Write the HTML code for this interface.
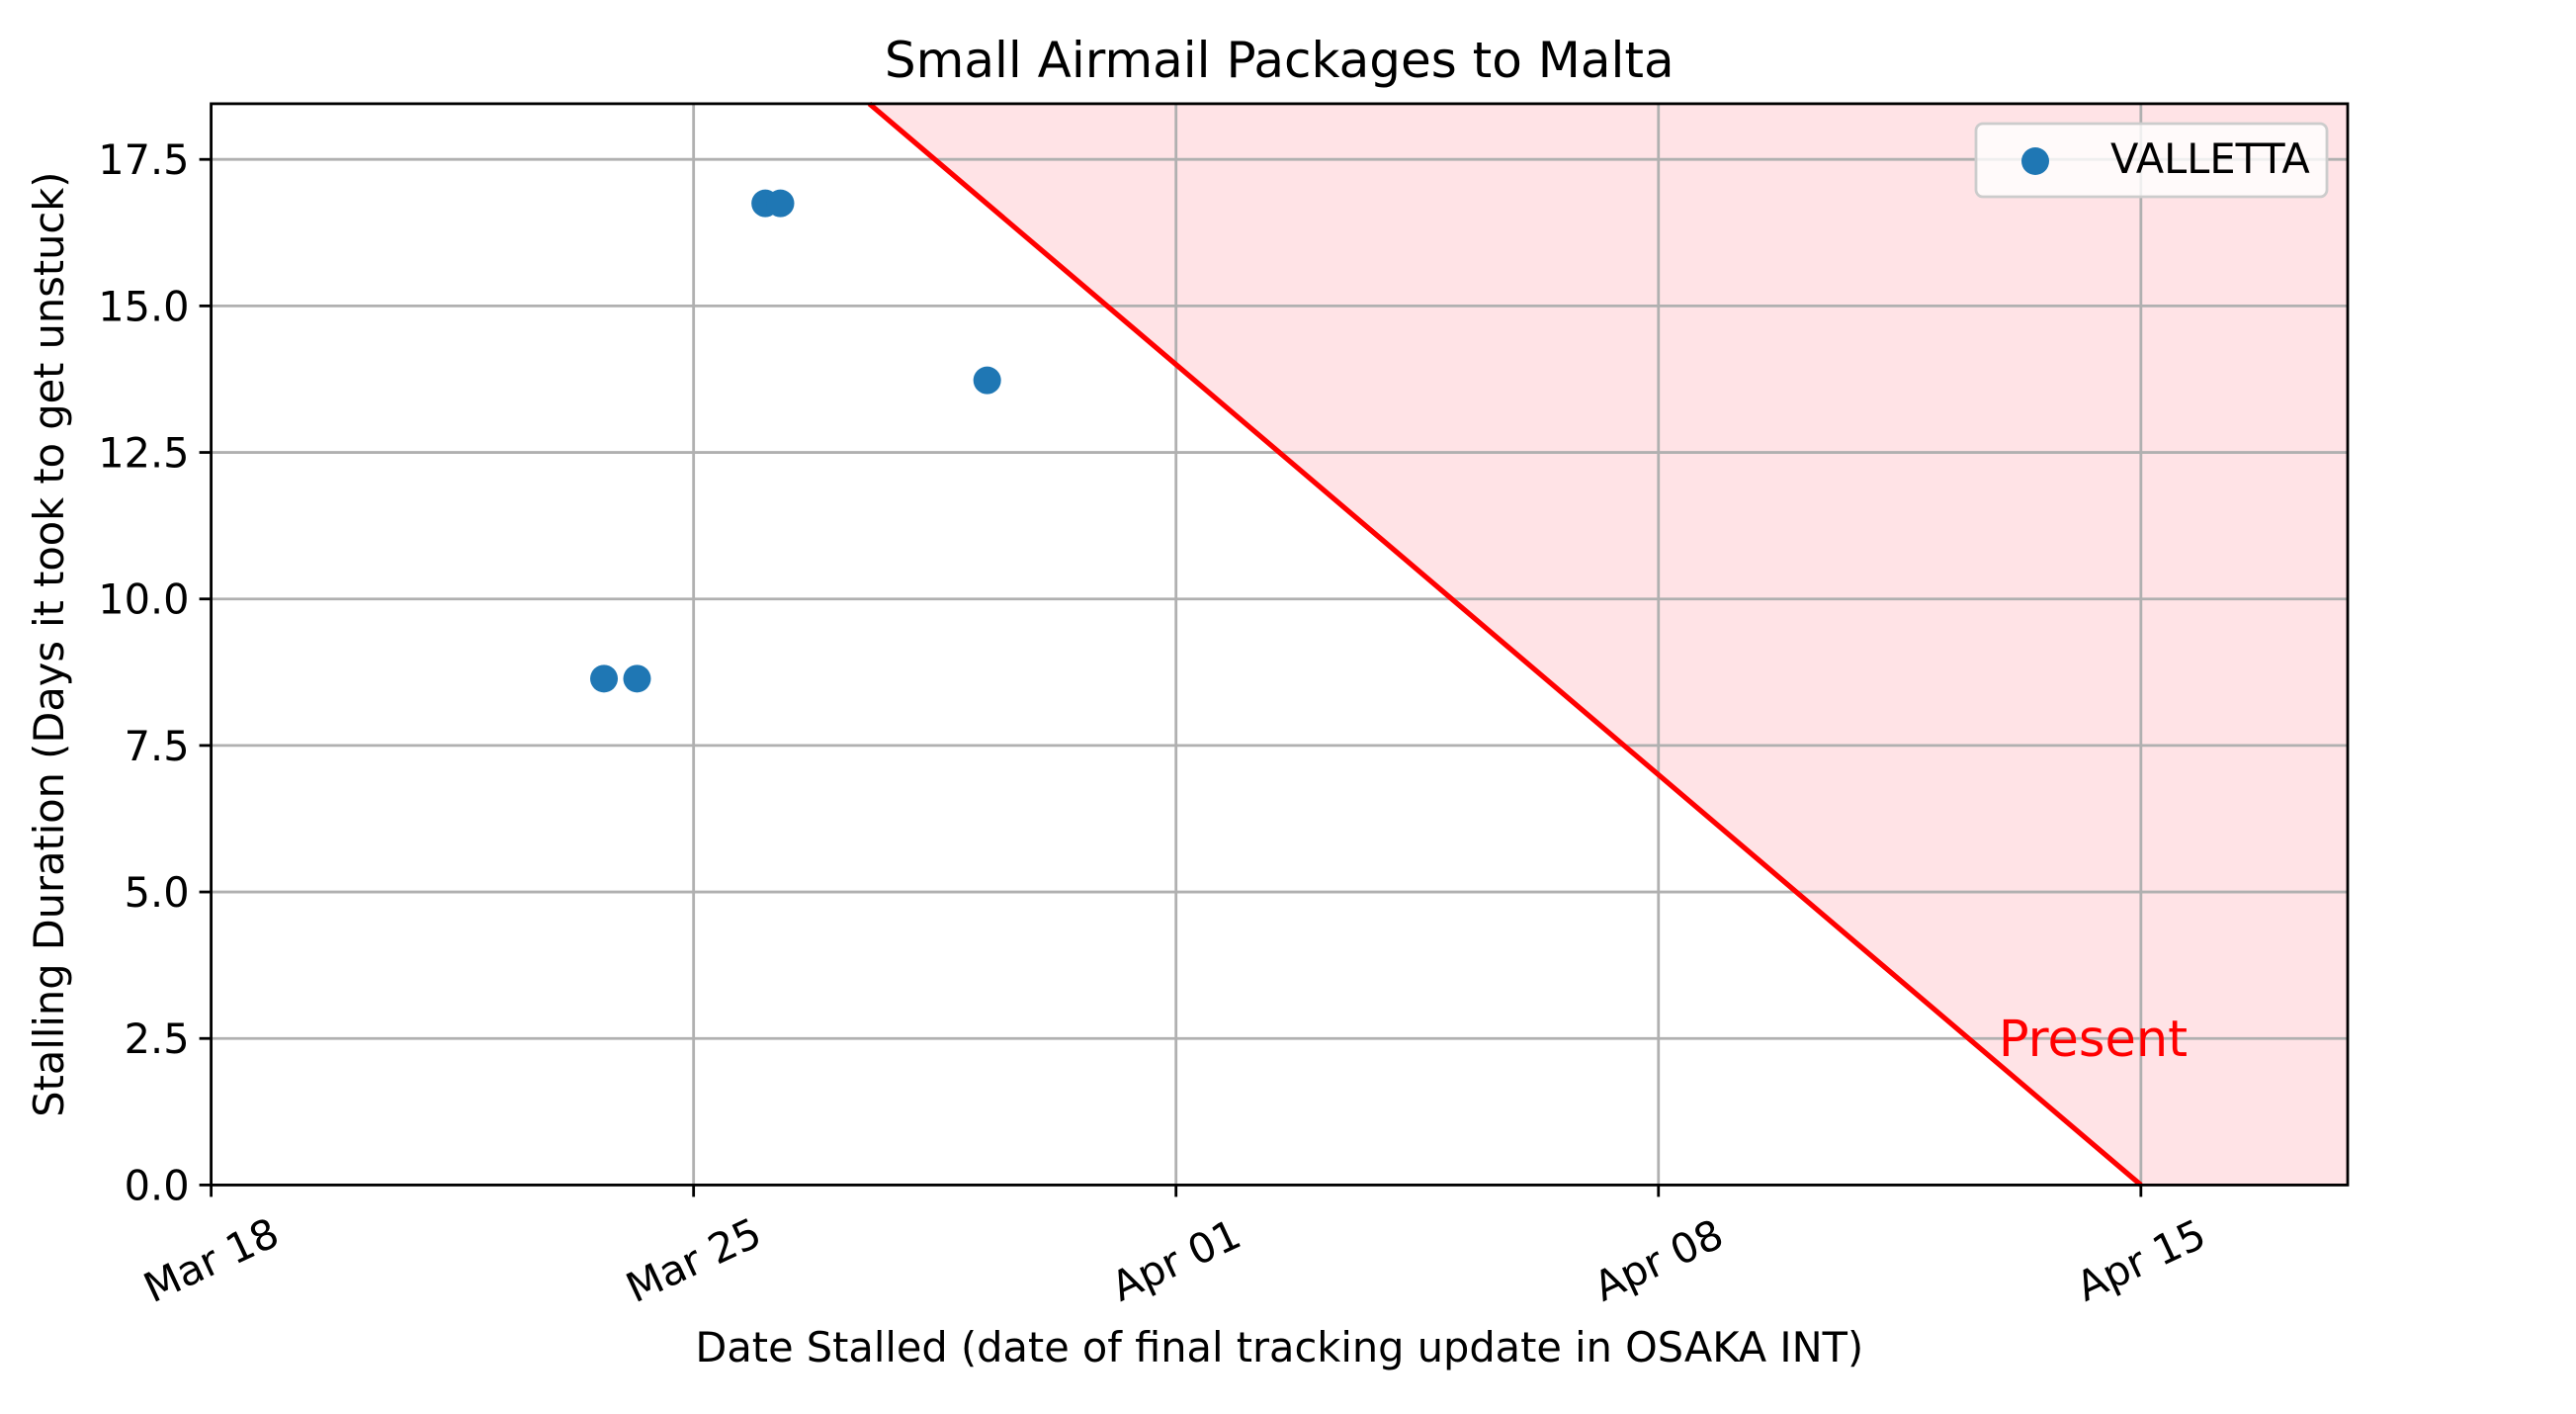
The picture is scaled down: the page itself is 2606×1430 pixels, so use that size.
<!DOCTYPE html>
<html><head><meta charset="utf-8"><style>
html,body{margin:0;padding:0;background:#fff;}
svg{display:block;font-family:"DejaVu Sans","Liberation Sans",sans-serif;}
</style></head><body>
<svg id="chart" width="2606" height="1430" viewBox="0 0 2606 1430" xmlns="http://www.w3.org/2000/svg">
<rect x="0" y="0" width="2606" height="1430" fill="#fff"/>
<g id="plot"></g>
</svg>
<script>
const xTickLabels = ["Mar 18","Mar 25","Apr 01","Apr 08","Apr 15"];
const xTickDays = [0,7,14,21,28];
const yTicks = [0,2.5,5,7.5,10,12.5,15,17.5];
const yTickLabels = ["0.0","2.5","5.0","7.5","10.0","12.5","15.0","17.5"];
const pointDays = [5.70,6.18,8.04,8.26,11.26];
const pointDurations = [8.64,8.64,16.75,16.75,13.73];
const presentDay = [28];
const xDomain = [0,31];
const yDomain = [0,18.45];

const L=213.6,R=2375,T=104.9,B=1198.4;
const X=d=>L+(d-xDomain[0])/(xDomain[1]-xDomain[0])*(R-L);
const Y=v=>B-(v-yDomain[0])/(yDomain[1]-yDomain[0])*(B-T);
const NS="http://www.w3.org/2000/svg";
const g=document.getElementById('plot');
function mk(tag,attrs,parent){const e=document.createElementNS(NS,tag);for(const k in attrs)e.setAttribute(k,attrs[k]);(parent||g).appendChild(e);return e;}

const p=presentDay[0];
const xTop=p-yDomain[1];
const fill=mk('polygon',{points:`${X(xTop)},${T} ${R},${T} ${R},${B} ${X(p)},${B}`,fill:'#ffe3e6'});



xTickDays.forEach((d,i)=>{
  const l=mk('line',{x1:X(d),x2:X(d),y1:T,y2:B,stroke:'#b0b0b0','stroke-width':2.8});
  
  
});
yTicks.forEach((v,i)=>{
  const l=mk('line',{x1:L,x2:R,y1:Y(v),y2:Y(v),stroke:'#b0b0b0','stroke-width':2.8});
  
  
});

const pl=mk('line',{x1:X(xTop),y1:T,x2:X(p),y2:B,stroke:'#ff0000','stroke-width':5.2});



pointDays.forEach((d,i)=>{
  const c=mk('circle',{cx:X(d),cy:Y(pointDurations[i]),r:14,fill:'#1f77b4'});
  
  
});

const pt=mk('text',{x:X(p)-144,y:Y(2.5)+18,fill:'#ff0000','font-size':51});
pt.textContent='Present';



const fr=mk('rect',{x:L,y:T,width:R-L,height:B-T,fill:'none',stroke:'#000','stroke-width':2.8});



xTickDays.forEach((d,i)=>{
  const t=mk('line',{x1:X(d),x2:X(d),y1:B,y2:B+12,stroke:'#000','stroke-width':2.8});
  
  
  const cx=X(d),cy=B+76;
  const tx=mk('text',{x:cx,y:cy,'text-anchor':'middle','dominant-baseline':'central','font-size':41.5,transform:`rotate(-25 ${cx} ${cy})`});
  tx.textContent=xTickLabels[i];
  
  
});
yTicks.forEach((v,i)=>{
  const t=mk('line',{x1:L-12,x2:L,y1:Y(v),y2:Y(v),stroke:'#000','stroke-width':2.8});
  
  
  const tx=mk('text',{x:L-22,y:Y(v)+15,'text-anchor':'end','font-size':41.5});
  tx.textContent=yTickLabels[i];
  
  
});

const ti=mk('text',{x:(L+R)/2,y:78,'text-anchor':'middle','font-size':50});
ti.textContent='Small Airmail Packages to Malta';


const xl=mk('text',{x:(L+R)/2,y:1377,'text-anchor':'middle','font-size':41.5});
xl.textContent='Date Stalled (date of final tracking update in OSAKA INT)';


const yl=mk('text',{x:0,y:0,'text-anchor':'middle','font-size':41.5,transform:`translate(64 ${(T+B)/2}) rotate(-90)`});
yl.textContent='Stalling Duration (Days it took to get unstuck)';



const lg=mk('g',{});


mk('rect',{x:1999,y:125,width:355,height:74,rx:7,fill:'#fff','fill-opacity':0.8,stroke:'#cccccc','stroke-width':2.8},lg);
const lm=mk('circle',{cx:2059,cy:163,r:14,fill:'#1f77b4'},lg);


const lt=mk('text',{x:2135,y:175,'font-size':41.5},lg);
lt.textContent='VALLETTA';


</script>
</body></html>
